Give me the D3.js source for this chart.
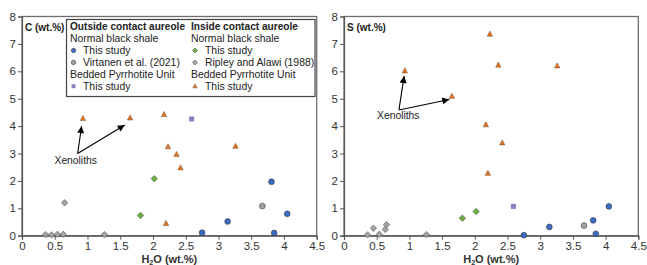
<!DOCTYPE html>
<html><head><meta charset="utf-8">
<script src="https://cdn.jsdelivr.net/npm/d3@7"></script>
<style>
body{margin:0;background:#fff;}
svg{display:block;font-family:"Liberation Sans",Arial,sans-serif;}
</style></head>
<body>
<svg id="c" width="647" height="265"></svg>
<script>
// ---- data ----
const xTicks = [0,0.5,1,1.5,2,2.5,3,3.5,4,4.5];
const yTicks = [0,1,2,3,4,5,6,7,8];

// Outside contact aureole, normal black shale, this study (blue circles)
const outH2O = [2.75, 3.14, 3.81, 3.85, 4.05];
const outC   = [0.11, 0.52, 1.97, 0.10, 0.80];
const outS   = [0.02, 0.32, 0.56, 0.07, 1.07];
// Virtanen et al. (2021) (gray circles)
const virH2O = [3.67];
const virC   = [1.08];
const virS   = [0.37];
// Bedded Pyrrhotite Unit outside, this study (purple square)
const bpuOutH2O = [2.59];
const bpuOutC   = [4.26];
const bpuOutS   = [1.07];
// Inside, normal black shale, this study (green diamonds)
const inH2O = [1.81, 2.02];
const inC   = [0.74, 2.08];
const inS   = [0.64, 0.88];
// Ripley and Alawi (1988) (gray diamonds)
const ripH2O = [0.36, 0.45, 0.54, 0.63, 0.65, 1.26];
const ripC   = [0.04, 0.03, 0.05, 0.05, 1.20, 0.04];
const ripS   = [0.03, 0.27, 0.05, 0.23, 0.40, 0.04];
// Bedded Pyrrhotite Unit inside, this study (orange triangles)
const bpuInH2O = [0.93, 1.65, 2.17, 2.20, 2.23, 2.36, 2.42, 3.26];
const bpuInC   = [4.28, 4.30, 4.43, 0.45, 3.25, 2.97, 2.48, 3.27];
const bpuInS   = [6.02, 5.09, 4.05, 2.28, 7.36, 6.23, 3.39, 6.20];

// annotations (data units)
const annC = {tx:0.82, ty:2.74, sx:0.85, sy:3.0, e:[[0.91,4.0],[1.57,4.04]]};
const annS = {tx:0.83, ty:4.4,  sx:0.84, sy:4.59, e:[[0.92,5.83],[1.61,4.97]]};

// ---- styles ----
const COL = {blue:"#3a6cc6", gray:"#a4a4a4", purple:"#8b80c2", green:"#69b13c", orange:"#e8741f"};

const svg = d3.select("#c");
const defs = svg.append("defs");
defs.append("marker").attr("id","ah").attr("viewBox","0 0 10 10")
  .attr("refX",10).attr("refY",5).attr("markerWidth",8).attr("markerHeight",7)
  .attr("markerUnits","userSpaceOnUse").attr("orient","auto")
  .append("path").attr("d","M0,0L10,5L0,10z").attr("fill","#000");

function sym(g, type, x, y, size, color){
  if(type==="circle"){
    g.append("circle").attr("cx",x).attr("cy",y).attr("r",size)
      .attr("fill",color).attr("stroke","#3a3a3a").attr("stroke-width",0.6);
  } else if(type==="diamond"){
    const s=size*1.15;
    g.append("path").attr("d",`M${x},${y-s}L${x+s},${y}L${x},${y+s}L${x-s},${y}Z`)
      .attr("fill",color).attr("stroke","#555").attr("stroke-width",0.6);
  } else if(type==="square"){
    const s=size*0.9;
    g.append("rect").attr("x",x-s).attr("y",y-s).attr("width",2*s).attr("height",2*s)
      .attr("fill",color);
  } else if(type==="triangle"){
    const s=size*0.95;
    g.append("path").attr("d",`M${x},${y-s*1.1}L${x+s},${y+s*0.8}L${x-s},${y+s*0.8}Z`)
      .attr("fill",color).attr("stroke","#6a4a30").attr("stroke-width",0.5);
  }
}

function panel(left, right, label, ys, ann, legend){
  const x = d3.scaleLinear().domain([0,4.5]).range([left,right]);
  const y = d3.scaleLinear().domain([0,8]).range([235.7,16.5]);
  const g = svg.append("g");
  g.append("rect").attr("x",x(0)).attr("y",y(8)).attr("width",x(4.5)-x(0)).attr("height",y(0)-y(8))
    .attr("fill","none").attr("stroke","#6e6e6e").attr("stroke-width",1.3);
  const xa = g.append("g").attr("transform",`translate(0,${y(0)})`)
    .call(d3.axisBottom(x).tickValues(xTicks).tickSize(4).tickPadding(2).tickFormat(d=>d));
  const ya = g.append("g").attr("transform",`translate(${x(0)},0)`)
    .call(d3.axisLeft(y).tickValues(yTicks).tickSize(4).tickPadding(2));
  [xa,ya].forEach(a=>{
    a.select(".domain").attr("stroke","#555").attr("stroke-width",1.2);
    a.selectAll(".tick line").attr("stroke","#555");
    a.selectAll(".tick text").attr("fill","#333").attr("font-size",11.5)
      .attr("font-family","Liberation Sans, Arial, sans-serif");
  });
  const t = g.append("text").attr("x",x(2.25)).attr("y",263).attr("text-anchor","middle")
    .attr("font-size",11).attr("font-weight","bold").attr("fill","#333");
  t.append("tspan").text("H");
  t.append("tspan").text("2").attr("font-size",7).attr("dy",2);
  t.append("tspan").text("O (wt.%)").attr("dy",-2);
  g.append("text").attr("x",x(0)+3).attr("y",y(8)+14).text(label)
    .attr("font-size",10).attr("font-weight","bold").attr("fill","#222");

  const pts = g.append("g");
  outH2O.forEach((h,i)=>sym(pts,"circle",x(h),y(ys.out[i]),2.9,COL.blue));
  virH2O.forEach((h,i)=>sym(pts,"circle",x(h),y(ys.vir[i]),2.9,COL.gray));
  ripH2O.forEach((h,i)=>sym(pts,"diamond",x(h),y(ys.rip[i]),2.8,COL.gray));
  inH2O.forEach((h,i)=>sym(pts,"diamond",x(h),y(ys.inn[i]),2.8,COL.green));
  bpuOutH2O.forEach((h,i)=>sym(pts,"square",x(h),y(ys.bpuOut[i]),2.8,COL.purple));
  bpuInH2O.forEach((h,i)=>sym(pts,"triangle",x(h),y(ys.bpuIn[i]),2.8,COL.orange));

  g.append("text").attr("x",x(ann.tx)).attr("y",y(ann.ty)).attr("dy","0.35em")
    .attr("text-anchor","middle").attr("font-size",10.3).attr("fill","#222").text("Xenoliths");
  ann.e.forEach(e=>{
    g.append("line").attr("x1",x(ann.sx)).attr("y1",y(ann.sy)).attr("x2",x(e[0])).attr("y2",y(e[1]))
      .attr("stroke","#000").attr("stroke-width",1.1).attr("marker-end","url(#ah)");
  });

  if(legend){
    const lg = g.append("g");
    lg.append("rect").attr("x",66.5).attr("y",19.5).attr("width",248.5).attr("height",77)
      .attr("fill","#fff").attr("stroke","#444").attr("stroke-width",1.2);
    const rows=[26.5,38.5,50.5,62.5,74.3,86.2];
    const cols=[{x:70,sx:73.5,tx:83,tl:115},{x:191,sx:195,tx:205,tl:107}];
    const items=[
      [["Outside contact aureole","title"],["Normal black shale","sub"],["This study","circle",COL.blue],
       ["Virtanen et al. (2021)","circle",COL.gray],["Bedded Pyrrhotite Unit","sub"],["This study","square",COL.purple]],
      [["Inside contact aureole","title"],["Normal black shale","sub"],["This study","diamond",COL.green],
       ["Ripley and Alawi (1988)","diamond",COL.gray],["Bedded Pyrrhotite Unit","sub"],["This study","triangle",COL.orange]]
    ];
    items.forEach((col,ci)=>{
      col.forEach((it,ri)=>{
        const c=cols[ci], yy=rows[ri];
        if(it[1]==="title"){
          lg.append("text").attr("x",c.x).attr("y",yy).attr("dy","0.35em").attr("font-size",10.8)
            .attr("font-weight","bold").attr("fill","#222")
            .attr("textLength",c.tl).attr("lengthAdjust","spacingAndGlyphs").text(it[0]);
        } else if(it[1]==="sub"){
          lg.append("text").attr("x",c.x).attr("y",yy).attr("dy","0.35em").attr("font-size",10.4)
            .attr("fill","#222").text(it[0]);
        } else {
          sym(lg,it[1],c.sx,yy,2.2,it[2]);
          lg.append("text").attr("x",c.tx).attr("y",yy).attr("dy","0.35em").attr("font-size",10.4)
            .attr("fill","#222").text(it[0]);
        }
      });
    });
  }
}

panel(22, 316.7, "C (wt.%)", {out:outC, vir:virC, rip:ripC, inn:inC, bpuOut:bpuOutC, bpuIn:bpuInC}, annC, true);
panel(344, 638.3, "S (wt.%)", {out:outS, vir:virS, rip:ripS, inn:inS, bpuOut:bpuOutS, bpuIn:bpuInS}, annS, false);
</script>
</body></html>
